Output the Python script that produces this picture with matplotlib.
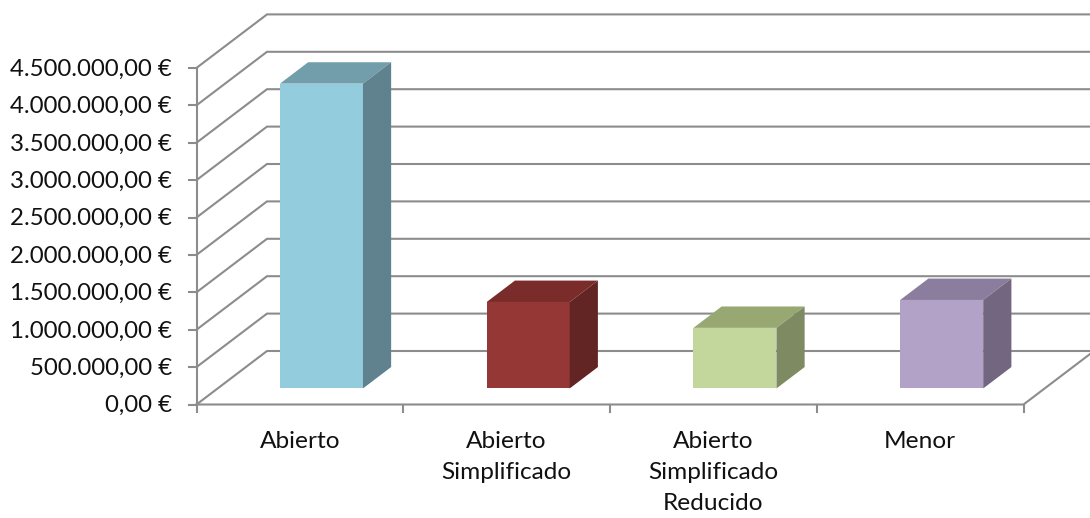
import matplotlib
matplotlib.use("Agg")
import matplotlib.pyplot as plt
from matplotlib.patches import Polygon

categories = ["Abierto", "Abierto\nSimplificado", "Abierto\nSimplificado\nReducido", "Menor"]
values = [4075000, 1156000, 810000, 1183000]
front_colors = ["#93CDDD", "#953735", "#C3D69B", "#B3A2C7"]
top_colors = ["#729EAB", "#7A2C2A", "#98A873", "#8B7D9E"]
side_colors = ["#5F828E", "#632523", "#7E8A62", "#726680"]
ticks = [0, 500000, 1000000, 1500000, 2000000, 2500000, 3000000, 3500000, 4000000, 4500000]
tick_labels = ["0,00 €", "500.000,00 €", "1.000.000,00 €", "1.500.000,00 €", "2.000.000,00 €",
               "2.500.000,00 €", "3.000.000,00 €", "3.500.000,00 €", "4.000.000,00 €", "4.500.000,00 €"]

W, H = 1090, 518
plt.rcParams["font.family"] = "Lato"
fig = plt.figure(figsize=(W / 100, H / 100), dpi=100)
ax = fig.add_axes([0, 0, 1, 1])
ux = 206.75
uy = 37.4 / 500000
x0, y0 = 196.5, 404.5
ax.set_xlim(-x0 / ux, (W - x0) / ux)
ax.set_ylim((y0 - H) / uy, y0 / uy)
ax.axis("off")

DX, DY = 70.5 / ux, 53.5 / uy
def proj(x, y, d):
    return (x + d * DX, y + d * DY)

grid = "#8C8C8C"
lw = 1.5
xmax = 4
right_clip = (W - x0) / ux
for t in ticks:
    pts = [proj(0, t, 0), proj(0, t, 1), (right_clip, t + DY)]
    ax.plot(*zip(*pts), color=grid, lw=lw, solid_joinstyle="miter", zorder=1)
ax.plot(*zip(proj(0, 0, 0), proj(xmax, 0, 0), proj(xmax, 0, 1)), color=grid, lw=lw, zorder=1)
ax.plot(*zip(proj(0, 0, 0), proj(0, ticks[-1], 0)), color=grid, lw=lw, zorder=1)

for t, lab in zip(ticks, tick_labels):
    ax.plot([-8 / ux, 0], [t, t], color=grid, lw=lw, zorder=1)
    ax.text(-24.5 / ux, t - 1.2 / uy, lab, ha="right", va="center", fontsize=17.3, color="#111111")
for i in range(5):
    ax.plot([i, i], [0, -7 / uy], color=grid, lw=lw, zorder=1)

bw = 83 / ux
d0, d1 = 0.3, 0.7
for i, (c, v) in enumerate(zip(categories, values)):
    xl = i + (280 - 21.2 - x0) / ux
    xr = xl + bw
    front = [proj(xl, 0, d0), proj(xr, 0, d0), proj(xr, v, d0), proj(xl, v, d0)]
    top = [proj(xl, v, d0), proj(xr, v, d0), proj(xr, v, d1), proj(xl, v, d1)]
    side = [proj(xr, 0, d0), proj(xr, 0, d1), proj(xr, v, d1), proj(xr, v, d0)]
    ax.add_patch(Polygon(front, fc=front_colors[i], ec="none", zorder=3))
    ax.add_patch(Polygon(top, fc=top_colors[i], ec="none", zorder=3))
    ax.add_patch(Polygon(side, fc=side_colors[i], ec="none", zorder=3))
    ax.text(i + 0.5, -26 / uy, c, ha="center", va="top", fontsize=17.6, color="#111111", linespacing=1.6)

fig.savefig("out.png", dpi=100)
